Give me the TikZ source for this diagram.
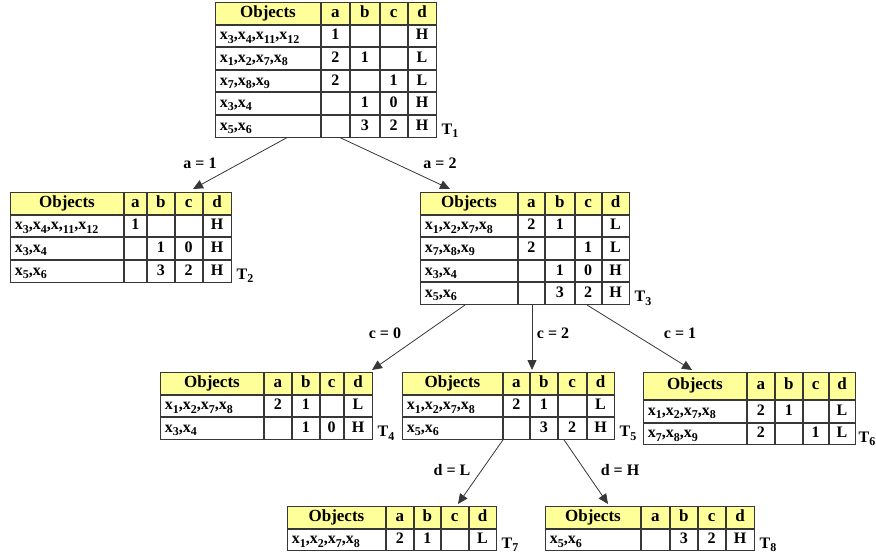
\documentclass[tikz,border=0pt]{standalone}
\usepackage{fontspec}
\setmainfont{Liberation Serif}
\usetikzlibrary{matrix,arrows.meta}
\definecolor{hdr}{RGB}{255,255,153}
\definecolor{linec}{RGB}{55,55,55}
\newcommand\mysub[1]{\raisebox{-3.2pt}{\fontsize{12}{13}\selectfont #1}}
\newcommand\xsub[1]{x\mysub{#1}}
\newcommand\hfont{\bfseries\fontsize{17}{19}\selectfont}
\newcommand\rfont{\bfseries\fontsize{16}{18}\selectfont}
\tikzset{
  tbl/.style n args={5}{matrix of nodes, nodes in empty cells, anchor=north west,
    inner sep=0pt, outer sep=0pt, column sep=0pt, row sep=0pt,
    nodes={draw=linec, line width=0.9pt, inner xsep=4.5pt, inner ysep=0pt, outer sep=0pt,
      minimum height=21.7pt, text height=11.5pt, text depth=3.5pt, anchor=center, font=\rfont},
    row 1/.style={nodes={fill=hdr, font=\hfont}},
    column 1/.style={nodes={text width=#1, align=left}},
    column 2/.style={nodes={minimum width=#2}},
    column 3/.style={nodes={minimum width=#3}},
    column 4/.style={nodes={minimum width=#4}},
    column 5/.style={nodes={minimum width=#5}}},
  hd/.style={align=center},
  edge/.style={draw=linec, line width=0.8pt, -{Triangle[width=9pt,length=10pt]}},
  elab/.style={font=\bfseries\fontsize{16}{18}\selectfont, inner sep=0pt},
  tlab/.style={font=\bfseries\fontsize{16}{18}\selectfont, anchor=base west, inner sep=0pt},
}
\begin{document}
\begin{tikzpicture}
\path[use as bounding box] (0pt,0pt) rectangle (876pt,-556pt);

\matrix (T1) at (215pt,-2pt) [tbl={96pt}{28pt}{29pt}{27pt}{28pt}] {
 |[hd]| Objects & a & b & c & d \\
 \xsub{3},\xsub{4},\xsub{11},\xsub{12} & 1 & & & H \\
 \xsub{1},\xsub{2},\xsub{7},\xsub{8} & 2 & 1 & & L \\
 \xsub{7},\xsub{8},\xsub{9} & 2 & & 1 & L \\
 \xsub{3},\xsub{4} & & 1 & 0 & H \\
 \xsub{5},\xsub{6} & & 3 & 2 & H \\
};
\node[tlab] (t1) at ([xshift=5pt,yshift=3pt]T1.south east) {T\mysub{1}};

\matrix (T2) at (10pt,-192pt) [tbl={104pt}{22pt}{27pt}{27pt}{28pt}] {
 |[hd]| Objects & a & b & c & d \\
 \xsub{3},\xsub{4},x,\mysub{11},\xsub{12} & 1 & & & H \\
 \xsub{3},\xsub{4} & & 1 & 0 & H \\
 \xsub{5},\xsub{6} & & 3 & 2 & H \\
};
\node[tlab] (t2) at ([xshift=5pt,yshift=3pt]T2.south east) {T\mysub{2}};

\matrix (T3) at (420pt,-192pt) [tbl={88pt}{26pt}{29pt}{26pt}{27pt}] {
 |[hd]| Objects & a & b & c & d \\
 \xsub{1},\xsub{2},\xsub{7},\xsub{8} & 2 & 1 & & L \\
 \xsub{7},\xsub{8},\xsub{9} & 2 & & 1 & L \\
 \xsub{3},\xsub{4} & & 1 & 0 & H \\
 \xsub{5},\xsub{6} & & 3 & 2 & H \\
};
\node[tlab] (t3) at ([xshift=5pt,yshift=3pt]T3.south east) {T\mysub{3}};

\matrix (T4) at (160pt,-372pt) [tbl={94pt}{27pt}{27pt}{23pt}{28pt}] {
 |[hd]| Objects & a & b & c & d \\
 \xsub{1},\xsub{2},\xsub{7},\xsub{8} & 2 & 1 & & L \\
 \xsub{3},\xsub{4} & & 1 & 0 & H \\
};
\node[tlab] (t4) at ([xshift=5pt,yshift=3pt]T4.south east) {T\mysub{4}};

\matrix (T5) at (402pt,-372pt) [tbl={91pt}{26pt}{27pt}{28pt}{27pt}] {
 |[hd]| Objects & a & b & c & d \\
 \xsub{1},\xsub{2},\xsub{7},\xsub{8} & 2 & 1 & & L \\
 \xsub{5},\xsub{6} & & 3 & 2 & H \\
};
\node[tlab] (t5) at ([xshift=5pt,yshift=3pt]T5.south east) {T\mysub{5}};

\matrix (T6) at (643pt,-372pt) [tbl={94pt}{27pt}{27pt}{25pt}{26pt}, row 1/.append style={nodes={minimum height=27pt}}] {
 |[hd]| Objects & a & b & c & d \\
 \xsub{1},\xsub{2},\xsub{7},\xsub{8} & 2 & 1 & & L \\
 \xsub{7},\xsub{8},\xsub{9} & 2 & & 1 & L \\
};
\node[tlab] (t6) at ([xshift=3pt,yshift=3pt]T6.south east) {T\mysub{6}};

\matrix (T7) at (287pt,-506pt) [tbl={89pt}{27pt}{26pt}{27pt}{27pt}] {
 |[hd]| Objects & a & b & c & d \\
 \xsub{1},\xsub{2},\xsub{7},\xsub{8} & 2 & 1 & & L \\
};
\node[tlab] (t7) at ([xshift=5pt,yshift=3pt]T7.south east) {T\mysub{7}};

\matrix (T8) at (545pt,-506pt) [tbl={86pt}{28pt}{27pt}{27pt}{28pt}] {
 |[hd]| Objects & a & b & c & d \\
 \xsub{5},\xsub{6} & & 3 & 2 & H \\
};
\node[tlab] (t8) at ([xshift=5pt,yshift=3pt]T8.south east) {T\mysub{8}};

\draw[edge] ([xshift=72pt]T1.south west) -- ([xshift=183pt,yshift=3pt]T2.north west);
\draw[edge] ([xshift=125pt]T1.south west) -- ([xshift=30pt,yshift=3pt]T3.north west);
\draw[edge] ([xshift=45pt]T3.south west) -- ([xshift=212pt,yshift=2pt]T4.north west);
\draw[edge] ([xshift=112pt]T3.south west) -- ([xshift=130pt,yshift=2pt]T5.north west);
\draw[edge] ([xshift=167pt]T3.south west) -- ([xshift=49pt,yshift=2pt]T6.north west);
\draw[edge] ([xshift=101pt]T5.south west) -- ([xshift=171pt,yshift=2pt]T7.north west);
\draw[edge] ([xshift=162pt]T5.south west) -- ([xshift=63pt,yshift=2pt]T8.north west);

\node[elab] (l1) at (200pt,-163pt) {a = 1};
\node[elab] (l2) at (440pt,-163pt) {a = 2};
\node[elab] (l3) at (385pt,-333pt) {c = 0};
\node[elab] (l4) at (553pt,-333pt) {c = 2};
\node[elab] (l5) at (680pt,-333pt) {c = 1};
\node[elab] (l6) at (452pt,-470pt) {d = L};
\node[elab] (l7) at (620pt,-470pt) {d = H};
\end{tikzpicture}
\end{document}
